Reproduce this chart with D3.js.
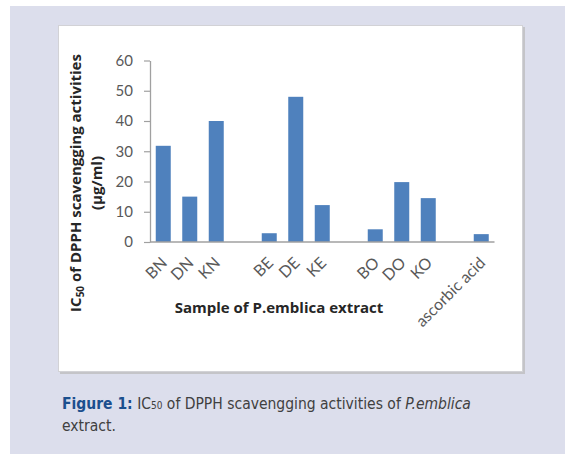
<!DOCTYPE html>
<html lang="en">
  <head>
    <meta charset="UTF-8" />
    <title>IC50 of DPPH scavengging activities</title>
    <script src="https://cdn.jsdelivr.net/npm/d3@7"></script>
    <style>
      body { margin: 0; background: #ffffff; }
      svg { display: block; }
    </style>
  </head>
  <body>
    <div id="chart"></div>
    <script>
      // values
      const categories = ["BN", "DN", "KN", "BE", "DE", "KE", "BO", "DO", "KO", "ascorbic acid"];
      const values = [31.8, 15, 40, 2.9, 48, 12.2, 4.2, 19.8, 14.5, 2.6];
      // an empty slot follows each of these groups
      const gapAfter = ["KN", "KE", "KO"];
      const yTicks = [0, 10, 20, 30, 40, 50, 60];

      const data = categories.map((c, i) => ({ name: c, value: values[i] }));

      // band domain with blank spacer slots between groups
      const slots = [];
      categories.forEach((c) => {
        slots.push(c);
        if (gapAfter.includes(c)) slots.push("gap-" + c);
      });

      const W = 565, H = 454;
      const svg = d3.select("#chart").append("svg").attr("width", W).attr("height", H);

      // page panel + white figure box
      svg.append("rect").attr("x", 10).attr("y", 6).attr("width", W - 10).attr("height", H - 6).attr("fill", "#dcdeec");
      svg.append("rect").attr("x", 60).attr("y", 27).attr("width", 465).attr("height", 347).attr("fill", "#c4c4c8");
      svg.append("rect").attr("x", 58.5).attr("y", 25.5).attr("width", 464).attr("height", 346)
        .attr("fill", "#ffffff").attr("stroke", "#d2d2d6");

      const margin = { top: 60.5, left: 150, right: 70.5, bottom: 212 };
      const x = d3.scaleBand().domain(slots).range([margin.left, W - margin.right])
        .paddingInner(0.434).paddingOuter(0.217);
      const y = d3.scaleLinear().domain([0, 60]).range([242, margin.top]);

      const font = "Lato, 'Open Sans', sans-serif";
      const titleFont = "'Open Sans', Lato, sans-serif";

      // y axis
      const yAxis = svg.append("g").attr("transform", "translate(" + margin.left + ",0)")
        .call(d3.axisLeft(y).tickValues(yTicks).tickSize(6).tickPadding(11).tickSizeOuter(0));
      yAxis.select(".domain").attr("stroke", "#a0a0a0").attr("stroke-width", 1.3);
      yAxis.selectAll(".tick line").attr("stroke", "#a0a0a0").attr("stroke-width", 1.2);
      yAxis.selectAll(".tick text").attr("fill", "#595959").attr("font-size", 15).attr("font-family", font);

      // bars
      svg.selectAll(".bar").data(data).enter().append("rect")
        .attr("class", "bar")
        .attr("x", (d) => x(d.name))
        .attr("y", (d) => y(d.value))
        .attr("width", x.bandwidth())
        .attr("height", (d) => y(0) - y(d.value))
        .attr("fill", "#4f81bd");

      // x baseline
      svg.append("line").attr("x1", margin.left).attr("x2", W - margin.right)
        .attr("y1", y(0)).attr("y2", y(0)).attr("stroke", "#a0a0a0").attr("stroke-width", 1.3);

      // x labels, rotated
      svg.selectAll(".xlab").data(data).enter().append("text")
        .attr("class", "xlab")
        .attr("transform", (d) => "translate(" + (x(d.name) + x.bandwidth() / 2 + 1) + "," + 260 + ") rotate(-45)")
        .attr("text-anchor", "end")
        .attr("dy", "0.35em")
        .attr("fill", "#595959").attr("font-size", 16).attr("font-family", font)
        .text((d) => d.name);

      // axis titles
      svg.append("text").attr("x", 279).attr("y", 313).attr("text-anchor", "middle")
        .attr("font-family", titleFont).attr("font-weight", "bold").attr("font-size", 15).attr("fill", "#262626")
        .text("Sample of P.emblica extract");

      const yTitle = svg.append("text").attr("transform", "translate(81,183) rotate(-90)")
        .attr("text-anchor", "middle").attr("font-family", titleFont).attr("font-weight", "bold")
        .attr("font-size", 15).attr("fill", "#262626");
      yTitle.append("tspan").text("IC");
      yTitle.append("tspan").attr("font-size", 10).attr("dy", 3).text("50");
      yTitle.append("tspan").attr("dy", -3).text(" of DPPH scavengging activities");
      svg.append("text").attr("transform", "translate(102,183) rotate(-90)")
        .attr("text-anchor", "middle").attr("font-family", titleFont).attr("font-weight", "bold")
        .attr("font-size", 15).attr("fill", "#262626").text("(\u00b5g/ml)");

      // caption
      const capFont = "'DejaVu Sans Condensed', 'DejaVu Sans', sans-serif";
      const cap = svg.append("text").attr("x", 62).attr("y", 409)
        .attr("font-family", capFont).attr("font-size", 15.5).attr("fill", "#404040");
      cap.append("tspan").attr("font-weight", "bold").attr("fill", "#1b4f8e").text("Figure 1:");
      cap.append("tspan").text(" IC");
      cap.append("tspan").attr("font-size", 10).text("50");
      cap.append("tspan").text(" of DPPH scavengging activities of ");
      cap.append("tspan").attr("font-style", "italic").text("P.emblica");
      svg.append("text").attr("x", 62).attr("y", 431)
        .attr("font-family", capFont).attr("font-size", 15.5).attr("fill", "#404040").text("extract.");
    </script>
  </body>
</html>
